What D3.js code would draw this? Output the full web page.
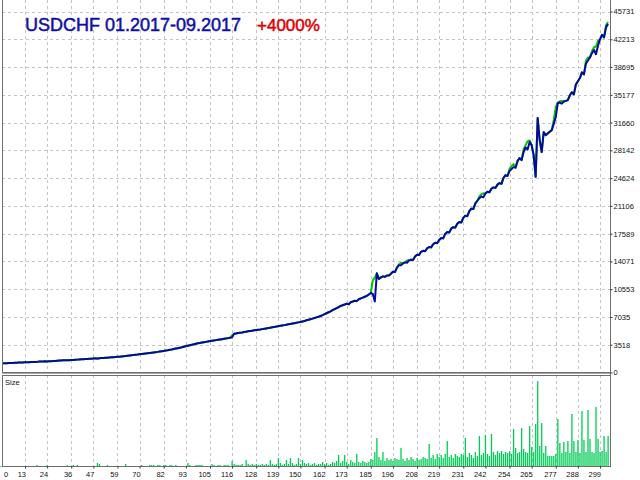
<!DOCTYPE html>
<html><head><meta charset="utf-8">
<script src="https://cdn.jsdelivr.net/npm/d3@7"></script>
<style>body{margin:0;background:#fff}svg{display:block}</style>
</head><body><svg id="c" width="640" height="480"></svg>
<script>
const titleText = "USDCHF 01.2017-09.2017";
const gainText = "+4000%";
const subTitle = "Size";
const yTickValues = [0,3518,7035,10553,14071,17589,21106,24624,28142,31660,35177,38695,42213,45731];
const xTickValues = [0,13,24,36,47,59,70,82,93,105,116,128,139,150,162,173,185,196,208,219,231,242,254,265,277,288,299];

const balance = [
1150,1162,1171,1169,1183,1195,1204,1213,1227,1241,
1258,1266,1279,1290,1288,1301,1315,1327,1340,1352,
1378,1385,1399,1411,1406,1422,1438,1450,1467,1489,
1510,1522,1538,1551,1548,1565,1583,1598,1614,1631,
1650,1667,1681,1699,1712,1730,1748,1767,1790,1752,
1803,1822,1841,1858,1879,1900,1922,1941,1965,1988,
2010,2036,2061,2089,2117,2150,2175,2204,2238,2266,
2300,2332,2365,2399,2434,2470,2503,2540,2575,2612,
2650,2692,2735,2781,2826,2880,2925,2978,3032,3085,
3140,3191,3255,3326,3400,3458,3512,3571,3640,3698,
3750,3792,3836,3881,3930,3980,4021,4062,4101,4140,
4180,4222,4265,4309,4355,4400,4450,4900,4948,4991,
5030,5071,5118,5165,5212,5260,5301,5338,5377,5412,
5450,5495,5540,5586,5631,5677,5722,5770,5816,5863,
5910,5957,6003,6050,6101,6148,6199,6251,6300,6352,
6400,6468,6533,6609,6680,6750,6828,6905,6987,7069,
7160,7271,7389,7508,7630,7750,7889,8022,8160,8296,
8430,8522,8611,8705,8640,8900,8990,9088,9040,9279,
9380,9488,9596,9700,9882,10070,9950,9000,12560,11850,
12050,12180,12120,12290,12300,12520,12760,12720,13280,13600,
13600,13820,13950,13900,14210,14300,14260,14690,14920,14880,
15290,15420,15350,15740,15900,15850,16250,16430,16380,16790,
17040,16990,17550,17800,17730,18220,18410,18350,18840,19060,
19000,19590,19870,19800,20440,20760,20700,21420,21760,22090,
22290,22200,22680,22890,22820,23270,23450,23380,23800,23990,
23900,24660,25000,24900,25510,25770,26020,25950,26800,27160,
26900,27920,28500,28240,29190,28800,27540,24790,32230,29440,
27920,30450,30070,30290,30500,30700,31500,32340,34110,34200,
34060,34330,34410,34500,35120,35500,35240,36480,36890,37300,
38020,37760,39120,39530,39900,40450,40860,40320,41400,42200,
42780,42450,43720,44150];

// trade index -> equity where it differs from balance
const equityAdjust = [[49,1800],[93,3390],[116,4700],[186,11700],[187,12000],[199,13700],[200,13900],[203,14200],
[239,22300],[240,22600],[241,22700],[254,25800],[255,26150],[256,26400],[261,28300],[262,28800],[263,29300],[264,29400],
[276,32000],[277,33600],[278,34200],[279,34350],[280,34400],[292,39500],[293,39900],[295,40700],[296,41200],[297,41300],
[298,42000],[302,44000],[303,44400]];

const sizes = [
0.01,0.01,0.01,0.01,0.01,0.01,0.01,0.01,0.01,0.01,
0.01,0.01,0.01,0.01,0.01,0.01,0.01,0.01,0.01,0.02,
0.01,0.01,0.01,0.01,0.02,0.01,0.01,0.01,0.01,0.01,
0.01,0.01,0.01,0.01,0.02,0.01,0.01,0.02,0.01,0.02,
0.01,0.01,0.01,0.01,0.01,0.01,0.01,0.01,0.01,0.04,
0.03,0.01,0.01,0.01,0.02,0.01,0.01,0.01,0.01,0.01,
0.01,0.01,0.01,0.03,0.01,0.01,0.01,0.01,0.01,0.01,
0.01,0.02,0.01,0.01,0.01,0.02,0.02,0.02,0.01,0.02,
0.02,0.01,0.02,0.02,0.01,0.02,0.02,0.01,0.02,0.01,
0.01,0.01,0.01,0.01,0.04,0.02,0.01,0.01,0.02,0.02,
0.02,0.02,0.01,0.01,0.01,0.01,0.03,0.02,0.01,0.02,
0.02,0.01,0.02,0.02,0.02,0.01,0.06,0.03,0.02,0.02,
0.02,0.03,0.01,0.07,0.03,0.02,0.03,0.02,0.03,0.02,
0.02,0.03,0.02,0.03,0.02,0.07,0.03,0.02,0.03,0.09,
0.04,0.02,0.03,0.07,0.03,0.09,0.04,0.02,0.03,0.09,
0.03,0.07,0.04,0.03,0.04,0.02,0.03,0.04,0.02,0.03,
0.03,0.05,0.03,0.04,0.02,0.03,0.05,0.04,0.06,0.12,
0.04,0.06,0.12,0.05,0.03,0.07,0.05,0.04,0.13,0.05,
0.04,0.06,0.05,0.04,0.05,0.08,0.07,0.15,0.29,0.10,
0.07,0.15,0.06,0.09,0.07,0.08,0.06,0.09,0.08,0.07,
0.19,0.08,0.06,0.09,0.07,0.10,0.08,0.06,0.09,0.07,
0.08,0.10,0.09,0.08,0.23,0.09,0.12,0.08,0.13,0.10,
0.12,0.09,0.13,0.26,0.10,0.12,0.09,0.13,0.11,0.10,
0.13,0.12,0.29,0.10,0.14,0.12,0.09,0.15,0.11,0.31,
0.12,0.14,0.32,0.13,0.11,0.33,0.15,0.12,0.16,0.14,
0.16,0.13,0.15,0.14,0.16,0.13,0.38,0.19,0.14,0.15,
0.39,0.18,0.15,0.14,0.41,0.20,0.15,0.43,0.86,0.21,
0.44,0.14,0.21,0.11,0.11,0.11,0.11,0.13,0.48,0.24,
0.14,0.25,0.15,0.26,0.14,0.53,0.26,0.15,0.27,0.14,
0.56,0.27,0.15,0.57,0.28,0.15,0.14,0.60,0.28,0.15,
0.16,0.31,0.15,0.31];

const adj = new Map(equityAdjust);
const equity = balance.map((b,i)=> adj.has(i) ? adj.get(i) : b);

const L = 2, R = 610, mainBottom = 372, subTop = 375, subBottom = 466;
const svg = d3.select("#c");
svg.append("rect").attr("width",640).attr("height",480).attr("fill","#fff");

const x = d3.scaleLinear().domain([13,299]).range([25,600]);
const y = d3.scaleLinear().domain([0,45731]).range([372.5,11.5]);
const ys = d3.scaleLinear().domain([0,0.86]).range([467,381]);

const gridCol = "#c4c4c4", dash = "3,3";
const grid = svg.append("g");
grid.selectAll("line.h").data(yTickValues.filter(v=>v>0)).join("line")
  .attr("x1",L).attr("x2",R)
  .attr("y1",d=>Math.round(y(d))+0.5).attr("y2",d=>Math.round(y(d))+0.5)
  .attr("stroke",gridCol).attr("stroke-dasharray",dash);
const vt = xTickValues.filter(v=>v>0);
grid.selectAll("line.vm").data(vt).join("line")
  .attr("x1",d=>Math.round(x(d))+0.5).attr("x2",d=>Math.round(x(d))+0.5)
  .attr("y1",0).attr("y2",mainBottom)
  .attr("stroke",gridCol).attr("stroke-dasharray",dash);
grid.selectAll("line.vs").data(vt).join("line")
  .attr("x1",d=>Math.round(x(d))+0.5).attr("x2",d=>Math.round(x(d))+0.5)
  .attr("y1",subTop).attr("y2",subBottom)
  .attr("stroke",gridCol).attr("stroke-dasharray",dash);

svg.append("clipPath").attr("id","mc").append("rect").attr("x",L+1).attr("y",0).attr("width",R-L-1).attr("height",mainBottom);
const idx = d3.range(balance.length);
const line = arr => d3.line().x(i=>x(i)).y(i=>y(arr[i]))(idx);
const mg = svg.append("g").attr("clip-path","url(#mc)");
mg.append("path").attr("d",line(equity)).attr("fill","none").attr("stroke","#00c800").attr("stroke-width",2).attr("stroke-linejoin","round");
mg.append("path").attr("d",line(balance)).attr("fill","none").attr("stroke","#0808a0").attr("stroke-width",2).attr("stroke-linejoin","round");

svg.append("g").selectAll("rect").data(idx).join("rect")
  .attr("x",i=>x(i)-0.6).attr("width",1.3)
  .attr("y",i=>ys(sizes[i])).attr("height",i=>ys(0)-ys(sizes[i]))
  .attr("fill","#00cc55");

const bc = "#6e6e6e";
svg.append("line").attr("x1",L+0.5).attr("x2",L+0.5).attr("y1",0).attr("y2",mainBottom+1).attr("stroke",bc);
svg.append("line").attr("x1",L).attr("x2",R).attr("y1",mainBottom+0.5).attr("y2",mainBottom+0.5).attr("stroke",bc);
svg.append("line").attr("x1",L).attr("x2",R).attr("y1",mainBottom+1.5).attr("y2",mainBottom+1.5).attr("stroke","#a8a8a8");
svg.append("rect").attr("x",L+0.5).attr("y",subTop+0.5).attr("width",R-L).attr("height",subBottom-subTop).attr("fill","none").attr("stroke",bc);
svg.append("line").attr("x1",R+0.5).attr("x2",R+0.5).attr("y1",0).attr("y2",subBottom+1).attr("stroke",bc);

const font = "'Liberation Sans', Arial, sans-serif";
const ya = svg.append("g").attr("transform",`translate(${R+0.5},0)`)
  .call(d3.axisRight(y).tickValues(yTickValues).tickSize(2).tickSizeOuter(0).tickFormat(d3.format("d")));
ya.select(".domain").remove();
ya.selectAll(".tick line").attr("stroke","#333");
ya.selectAll(".tick text").attr("x",3).attr("dy","0.33em").attr("fill","#111")
  .style("font-family",font).style("font-size","7.5px");

const xa = svg.append("g").attr("transform",`translate(0,${subBottom+0.5})`)
  .call(d3.axisBottom(x).tickValues(xTickValues).tickSize(2).tickSizeOuter(0).tickFormat(d3.format("d")));
xa.select(".domain").remove();
xa.selectAll(".tick line").attr("stroke","#333");
xa.selectAll(".tick text").attr("y",10.5).attr("dy",0).attr("fill","#111")
  .attr("text-anchor",d=>d===0?"start":"end")
  .attr("x",d=>d===0? (L+1.5 - x(0)) : 0.5)
  .style("font-family",font).style("font-size","7.5px");

svg.append("text").attr("x",5).attr("y",385).text(subTitle)
  .style("font-family",font).style("font-size","7.5px").attr("fill","#111");

const t = svg.append("text").attr("x",25).attr("y",31).style("font-family",font).style("font-size","18px");
t.append("tspan").attr("fill","#0f0fa6").attr("stroke","#0f0fa6").attr("stroke-width",0.5).text(titleText);
t.append("tspan").attr("x",257).attr("fill","#e00000").attr("stroke","#e00000").attr("stroke-width",0.5).style("font-size","17px").text(gainText);
</script></body></html>
